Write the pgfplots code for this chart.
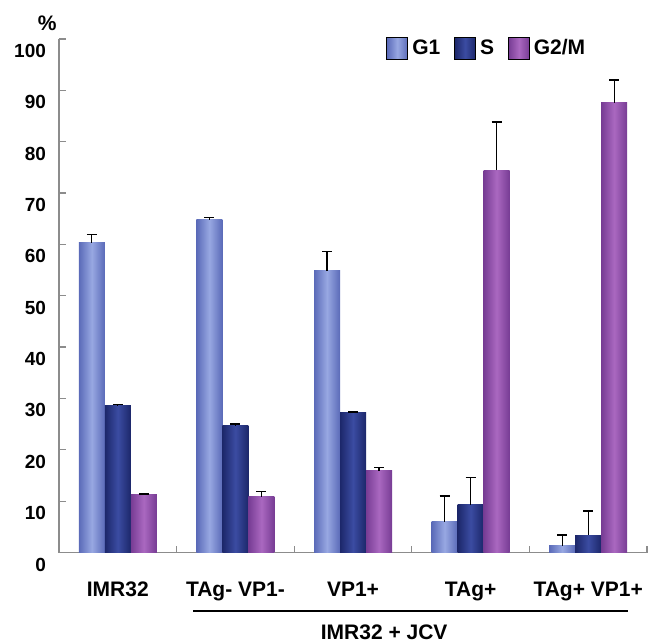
\documentclass[border=0pt]{standalone}
\usepackage{fontspec}
\setmainfont{Liberation Sans}
\usepackage{pgfplots}
\pgfplotsset{compat=1.18}
\usepackage{pgfplotstable}

\definecolor{goneE}{HTML}{5A6AB8}
\definecolor{goneC}{HTML}{98A8E2}
\definecolor{sE}{HTML}{1C276A}
\definecolor{sC}{HTML}{3B4CA2}
\definecolor{gtwoE}{HTML}{773C94}
\definecolor{gtwoC}{HTML}{AA68C0}
\definecolor{axgray}{HTML}{8C8C8C}

% x = group, y = percent, err = upper error
\pgfplotstableread{
x y err
0 60.3 1.6
1 64.8 0.4
2 54.9 3.7
3 6.0 5.0
4 1.3 2.1
}\gone
\pgfplotstableread{
x y err
0 28.6 0.2
1 24.7 0.3
2 27.3 0.1
3 9.3 5.3
4 3.4 4.7
}\sphase
\pgfplotstableread{
x y err
0 11.2 0.2
1 10.9 1.0
2 15.9 0.6
3 74.4 9.4
4 87.6 4.4
}\gtwom

% 13pt of bar width in x units (294pt / 5 groups)
\def\bw{0.22109}

\pgfplotsset{
  shGone/.style={left color=goneE, right color=goneE, middle color=goneC},
  shS/.style={left color=sE, right color=sE, middle color=sC},
  shGtwo/.style={left color=gtwoE, right color=gtwoE, middle color=gtwoC},
  errplot/.style={ybar, bar shift=0pt, bar width=13pt, draw=none, fill=none, forget plot,
    error bars/.cd, y dir=plus, y explicit,
    error bar style={draw=black, line width=0.7pt},
    error mark options={rotate=90, draw=black, mark size=2.5pt, line width=0.7pt},
    /pgfplots/.cd},
}

\begin{document}
\begin{tikzpicture}
\begin{axis}[
  name=ax,
  scale only axis, width=294pt, height=256.75pt,
  xmin=-0.5, xmax=4.5, ymin=0, ymax=100,
  axis x line*=bottom, axis y line*=left,
  axis line style={axgray, line width=0.6pt},
  tick style={axgray, line width=0.6pt},
  major tick length=3.5pt,
  ytick={0,10,...,100},
  yticklabel style={font=\fontsize{9.5}{11}\selectfont\bfseries, xshift=-3pt, yshift=-6pt},
  xtick={0.5,1.5,2.5,3.5,4.5}, xticklabels={},
  extra x ticks={0,1,2,3,4},
  extra x tick labels={IMR32, TAg- VP1-, VP1+, TAg+, TAg+ VP1+},
  extra x tick style={major tick length=0pt,
    xticklabel style={font=\fontsize{10.5}{12}\selectfont\bfseries, yshift=-11pt}},
  /pgf/number format/assume math mode=true,
  bar width=13pt,
  clip=false,
  legend style={at={(0.546,0.982)}, anchor=west, draw=none, fill=none,
    font=\fontsize{10.5}{12}\selectfont\bfseries,
    /tikz/every even column/.append style={column sep=5pt}},
  legend columns=-1,
  legend image code/.code={\fill[#1] (0pt,-5.5pt) rectangle (10.5pt,5.5pt);},
]
% one plot per bar so that each bar gets its own shading
\pgfplotsinvokeforeach{0,...,4}{
  \addplot[ybar, bar shift=-13pt, draw=none, shGone, forget plot, restrict x to domain=#1:#1]
    table[x=x, y=y] {\gone};
  \addplot[ybar, bar shift=0pt, draw=none, shS, forget plot, restrict x to domain=#1:#1]
    table[x=x, y=y] {\sphase};
  \addplot[ybar, bar shift=13pt, draw=none, shGtwo, forget plot, restrict x to domain=#1:#1]
    table[x=x, y=y] {\gtwom};
}
\addlegendimage{shGone}\addlegendentry{G1}
\addlegendimage{shS}\addlegendentry{S}
\addlegendimage{shGtwo}\addlegendentry{G2/M}

\addplot[errplot] table[x expr=\thisrow{x}-\bw, y=y, y error=err] {\gone};
\addplot[errplot] table[x=x, y=y, y error=err] {\sphase};
\addplot[errplot] table[x expr=\thisrow{x}+\bw, y=y, y error=err] {\gtwom};

\draw[black, line width=1pt] (rel axis cs:0.228,-0.114) -- (rel axis cs:0.968,-0.114);
\node[font=\fontsize{10.5}{12}\selectfont\bfseries] at (rel axis cs:0.553,-0.155) {IMR32 + JCV};
\node[font=\fontsize{10.5}{12}\selectfont\bfseries] at (rel axis cs:-0.02,1.031) {\%};
\end{axis}
\pgfresetboundingbox
\path[use as bounding box] ([xshift=-29.5pt,yshift=-44.75pt]ax.south west)
  rectangle ([xshift=5pt,yshift=19.5pt]ax.north east);
\end{tikzpicture}
\end{document}
